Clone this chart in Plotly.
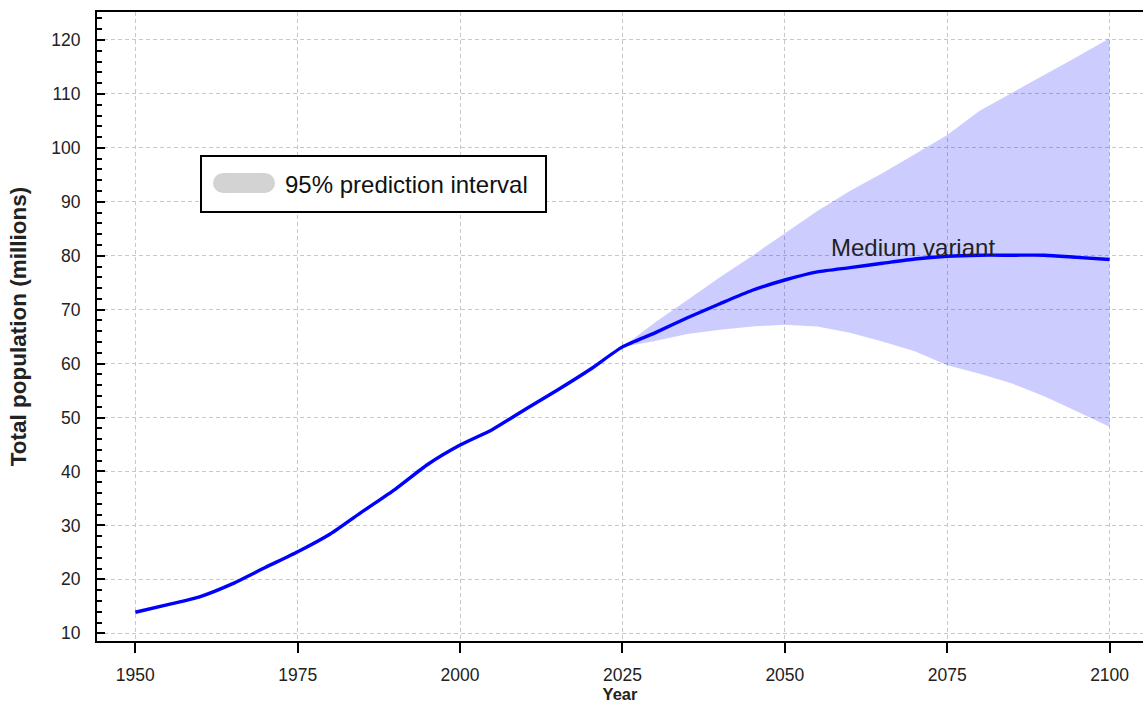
import plotly.graph_objects as go

# ---- data ----
years = list(range(1950, 2101, 5))
medium = [13.9, 15.3, 16.8, 19.2, 22.2, 25.1, 28.4, 32.6, 36.7, 41.3, 44.9,
          47.8, 51.5, 55.1, 58.9, 63.1, 65.7, 68.5, 71.1, 73.6, 75.5,
          77.0, 77.8, 78.6, 79.4, 79.9, 80.1, 80.1, 80.1, 79.7, 79.3]

band_years = list(range(2025, 2101, 5))
upper95 = [63.1, 67.6, 71.8, 76.0, 80.0, 84.2, 88.3, 92.0, 95.3, 98.8,
           102.4, 106.9, 110.2, 113.5, 116.9, 120.3]
lower95 = [63.1, 64.2, 65.5, 66.3, 66.9, 67.2, 66.9, 65.7, 64.1, 62.3,
           59.7, 58.1, 56.3, 53.9, 51.1, 48.3]

x_ticks = [1950, 1975, 2000, 2025, 2050, 2075, 2100]
y_ticks = [10, 20, 30, 40, 50, 60, 70, 80, 90, 100, 110, 120]

FONT = "Liberation Sans, Arial, sans-serif"
BAND = "rgba(0,0,255,0.2)"
LINE = "#0000ff"
GRID = "#c8c8c8"

fig = go.Figure()
fig.add_trace(go.Scatter(x=band_years, y=upper95, mode="lines",
                         line=dict(width=0, color=BAND), hoverinfo="skip",
                         showlegend=False))
fig.add_trace(go.Scatter(x=band_years, y=lower95, mode="lines",
                         line=dict(width=0, color=BAND), fill="tonexty",
                         fillcolor=BAND, name="95% prediction interval",
                         showlegend=False))
fig.add_trace(go.Scatter(x=years, y=medium, mode="lines",
                         line=dict(width=3.4, color=LINE, shape="spline",
                                   smoothing=0.6),
                         name="Medium variant", showlegend=False))

W, H = 1143, 703
L, R, T, B = 97, 0, 12, 62
pw, ph = W - L - R, H - T - B


def px(xp):
    return (xp - L) / pw


def py(yp):
    return (H - B - yp) / ph


grey = "#d3d3d3"
shapes = [
    dict(type="rect", xref="paper", yref="paper", x0=px(201), x1=px(546),
         y0=py(212), y1=py(156), line=dict(color="black", width=2),
         fillcolor="white", layer="above"),
    dict(type="rect", xref="paper", yref="paper", x0=px(223), x1=px(265),
         y0=py(193), y1=py(173), line=dict(width=0), fillcolor=grey,
         layer="above"),
    dict(type="circle", xref="paper", yref="paper", x0=px(213), x1=px(233),
         y0=py(193), y1=py(173), line=dict(width=0), fillcolor=grey,
         layer="above"),
    dict(type="circle", xref="paper", yref="paper", x0=px(255), x1=px(275),
         y0=py(193), y1=py(173), line=dict(width=0), fillcolor=grey,
         layer="above"),
]

annotations = [
    dict(xref="paper", yref="paper", x=px(283), y=py(184),
         text="95% prediction interval", showarrow=False, xanchor="left",
         yanchor="middle", font=dict(family=FONT, size=24, color="#111")),
    dict(x=2056.8, y=81.6, text="Medium variant", showarrow=False,
         xanchor="left", yanchor="middle",
         font=dict(family=FONT, size=24, color="#222")),
]

fig.update_layout(
    width=W, height=H,
    margin=dict(l=L, r=R, t=T, b=B, pad=0),
    paper_bgcolor="white", plot_bgcolor="white",
    font=dict(family=FONT, color="#222"),
    shapes=shapes, annotations=annotations,
    xaxis=dict(
        range=[1944.1, 2105.14], tickvals=x_ticks,
        ticktext=[str(v) for v in x_ticks],
        showline=True, linecolor="black", linewidth=2, mirror=True,
        ticks="outside", ticklen=10, tickwidth=2, tickcolor="black",
        ticklabelstandoff=7,
        tickfont=dict(family=FONT, size=17.5, color="#222"),
        showgrid=True, gridcolor=GRID, gridwidth=1, griddash="4px,3px",
        zeroline=False,
        title=dict(text="<b>Year</b>", standoff=4,
                   font=dict(family=FONT, size=16.5, color="#222")),
    ),
    yaxis=dict(
        range=[8.57, 125.19], tickvals=y_ticks,
        ticktext=[str(v) for v in y_ticks],
        showline=True, linecolor="black", linewidth=2,
        ticks="inside", ticklen=8, tickwidth=2, tickcolor="black",
        ticklabelstandoff=11,
        tickfont=dict(family=FONT, size=17.5, color="#222"),
        minor=dict(dtick=2, tick0=0, ticks="inside", ticklen=5,
                   tickwidth=2, tickcolor="black", showgrid=False),
        showgrid=True, gridcolor=GRID, gridwidth=1, griddash="4px,3px",
        zeroline=False,
        title=dict(text="<b>Total population (millions)</b>", standoff=18,
                   font=dict(family=FONT, size=22.5, color="#222")),
    ),
)

fig.write_html("out.html")
